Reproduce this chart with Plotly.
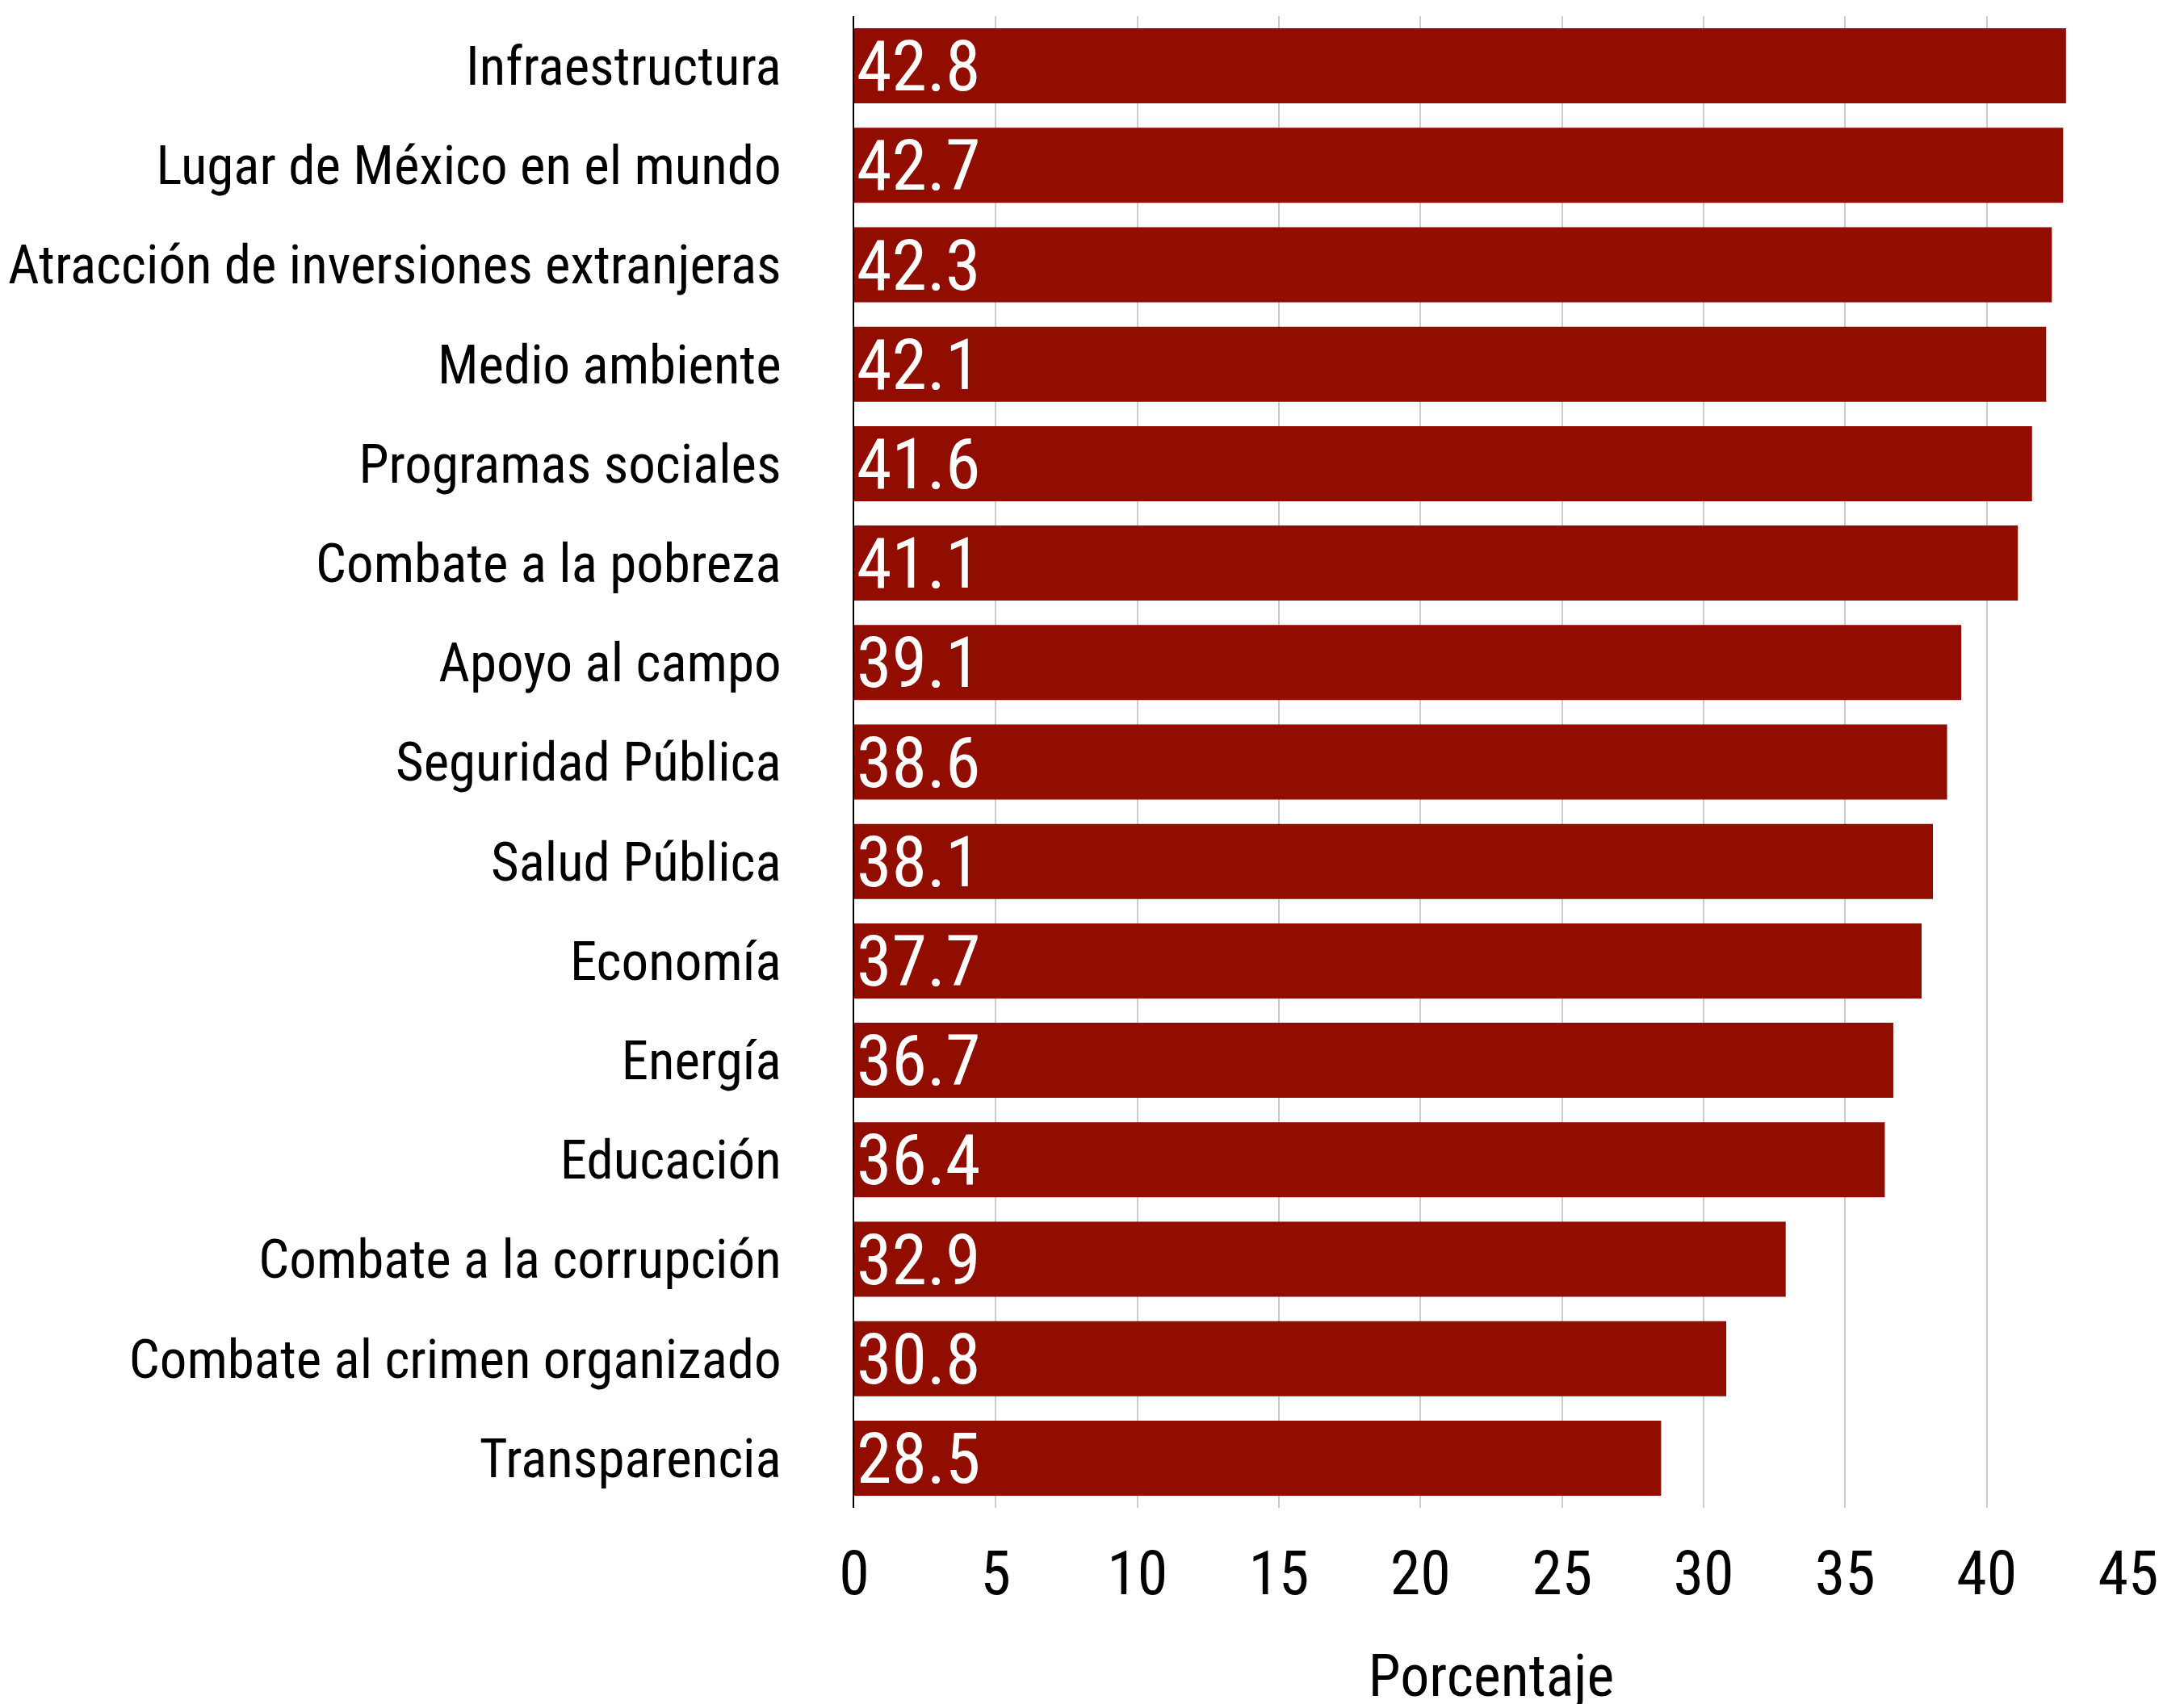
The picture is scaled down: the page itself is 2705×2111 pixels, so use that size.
import plotly.graph_objects as go

categories = [
    "Infraestructura",
    "Lugar de México en el mundo",
    "Atracción de inversiones extranjeras",
    "Medio ambiente",
    "Programas sociales",
    "Combate a la pobreza",
    "Apoyo al campo",
    "Seguridad Pública",
    "Salud Pública",
    "Economía",
    "Energía",
    "Educación",
    "Combate a la corrupción",
    "Combate al crimen organizado",
    "Transparencia",
]
values = [42.8, 42.7, 42.3, 42.1, 41.6, 41.1, 39.1, 38.6, 38.1, 37.7, 36.7, 36.4, 32.9, 30.8, 28.5]
x_ticks = [0, 5, 10, 15, 20, 25, 30, 35, 40, 45]
x_title = "Porcentaje"

FONT = "Roboto Condensed, Liberation Sans Narrow, DejaVu Sans Condensed, Roboto, sans-serif"
BAR = "#910D00"

fig = go.Figure(
    go.Bar(
        y=categories,
        x=values,
        orientation="h",
        marker=dict(color=BAR, line=dict(width=0)),
        text=[f"{v:.1f}" for v in values],
        textposition="inside",
        insidetextanchor="start",
        constraintext="none",
        textfont=dict(family=FONT, size=88, color="white"),
        hoverinfo="skip",
    )
)

fig.update_layout(
    width=2705,
    height=2111,
    margin=dict(l=1050, r=77, t=12, b=251, autoexpand=False),
    paper_bgcolor="white",
    plot_bgcolor="white",
    bargap=0.245,
    showlegend=False,
    font=dict(family=FONT, color="black"),
)

fig.update_xaxes(
    range=[0, 45],
    tickvals=x_ticks,
    ticktext=[str(t) for t in x_ticks],
    tickfont=dict(family=FONT, size=76, color="black"),
    showgrid=True,
    gridcolor="#cccccc",
    gridwidth=2,
    zeroline=False,
    showline=False,
    ticks="",
    ticklabelstandoff=30,
    title=dict(text=x_title, font=dict(family=FONT, size=72, color="black"), standoff=62),
    automargin=False,
)

fig.update_yaxes(
    categoryorder="array",
    categoryarray=categories,
    autorange="reversed",
    tickfont=dict(family=FONT, size=67, color="black"),
    showgrid=False,
    zeroline=False,
    showline=True,
    linecolor="black",
    linewidth=2,
    ticks="",
    ticklabelstandoff=75,
    automargin=False,
)

fig.write_html("out.html")
